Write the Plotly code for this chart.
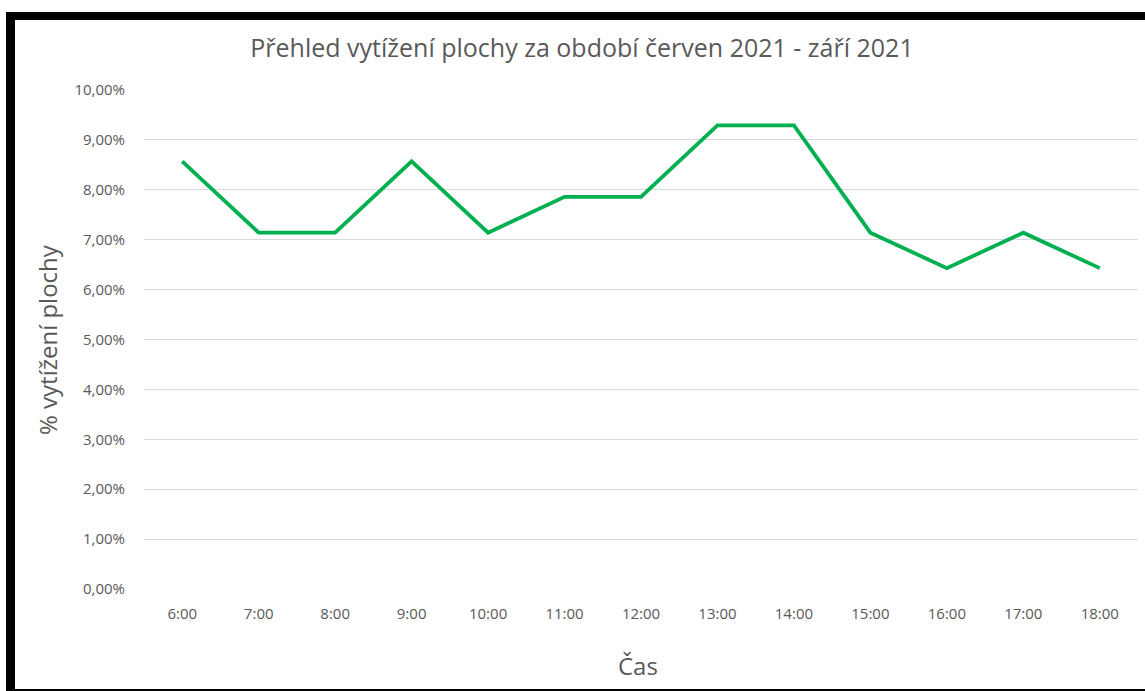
import plotly.graph_objects as go

# hodinové časy a průměrné vytížení plochy (podíl)
hours = ["6:00", "7:00", "8:00", "9:00", "10:00", "11:00", "12:00",
         "13:00", "14:00", "15:00", "16:00", "17:00", "18:00"]
utilization = [0.0857, 0.0714, 0.0714, 0.0857, 0.0714, 0.0786, 0.0786,
               0.0929, 0.0929, 0.0714, 0.0643, 0.0714, 0.0643]

W, H = 1145, 691
LEFT, RIGHT, TOP, BOTTOM = 144, 1138, 90, 589
TEXT_GRAY = "#595959"
GRID_GRAY = "#D9D9D9"
FONT = "Open Sans"


def px_x(x):
    return (x - LEFT) / (RIGHT - LEFT)


def px_y(y):
    return (BOTTOM - y) / (BOTTOM - TOP)


fig = go.Figure(
    go.Scatter(
        x=hours,
        y=utilization,
        mode="lines",
        line={"color": "#00B050", "width": 3.8},
        showlegend=False,
        hovertemplate="%{x}: %{y:.2%}<extra></extra>",
    )
)

# black frame around the chart (as in the original screenshot)
frame = [(6, 12, 1145, 20), (6, 12, 15, 691), (6, 689, 1145, 691)]
shapes = []
for x0, y0, x1, y1 in frame:
    shapes.append({
        "type": "rect", "xref": "paper", "yref": "paper",
        "x0": px_x(x0), "x1": px_x(x1), "y0": px_y(y1), "y1": px_y(y0),
        "fillcolor": "black", "line": {"width": 0}, "layer": "above",
    })

# axis titles placed as annotations
annotations = [
    {
        "text": "Čas", "xref": "paper", "yref": "paper",
        "x": px_x(638), "y": px_y(665), "xanchor": "center", "yanchor": "middle",
        "showarrow": False, "font": {"size": 24, "color": TEXT_GRAY},
    },
    {
        "text": "% vytížení plochy", "xref": "paper", "yref": "paper",
        "x": px_x(47), "y": px_y(340), "xanchor": "center", "yanchor": "middle",
        "textangle": -90, "showarrow": False, "font": {"size": 24, "color": TEXT_GRAY},
    },
]

fig.update_layout(
    width=W,
    height=H,
    margin={"l": LEFT, "r": W - RIGHT, "t": TOP, "b": H - BOTTOM, "pad": 0},
    paper_bgcolor="white",
    plot_bgcolor="white",
    separators=", ",
    font={"family": FONT, "color": TEXT_GRAY, "size": 15},
    title={
        "text": "Přehled vytížení plochy za období červen 2021 - září 2021",
        "x": 582 / W,
        "xanchor": "center",
        "y": 1 - 48 / H,
        "yanchor": "middle",
        "font": {"size": 25, "color": TEXT_GRAY, "family": FONT},
    },
    xaxis={
        "type": "category",
        "range": [-0.5, len(hours) - 0.5],
        "showgrid": False,
        "showline": False,
        "zeroline": False,
        "ticks": "",
        "ticklabelstandoff": 14,
        "tickfont": {"size": 15, "color": TEXT_GRAY},
    },
    yaxis={
        "range": [0, 0.1],
        "dtick": 0.01,
        "tickformat": ".2%",
        "showgrid": True,
        "gridcolor": GRID_GRAY,
        "gridwidth": 1,
        "zeroline": False,
        "showline": False,
        "ticks": "",
        "ticklabelstandoff": 18,
        "tickfont": {"size": 15, "color": TEXT_GRAY},
    },
    shapes=shapes,
    annotations=annotations,
)

# the page body has a default 8px margin; remove it so the chart sits at 0,0
fig.write_html(
    "out.html",
    config={"displayModeBar": False},
    post_script="document.body.style.margin = '0';",
)
